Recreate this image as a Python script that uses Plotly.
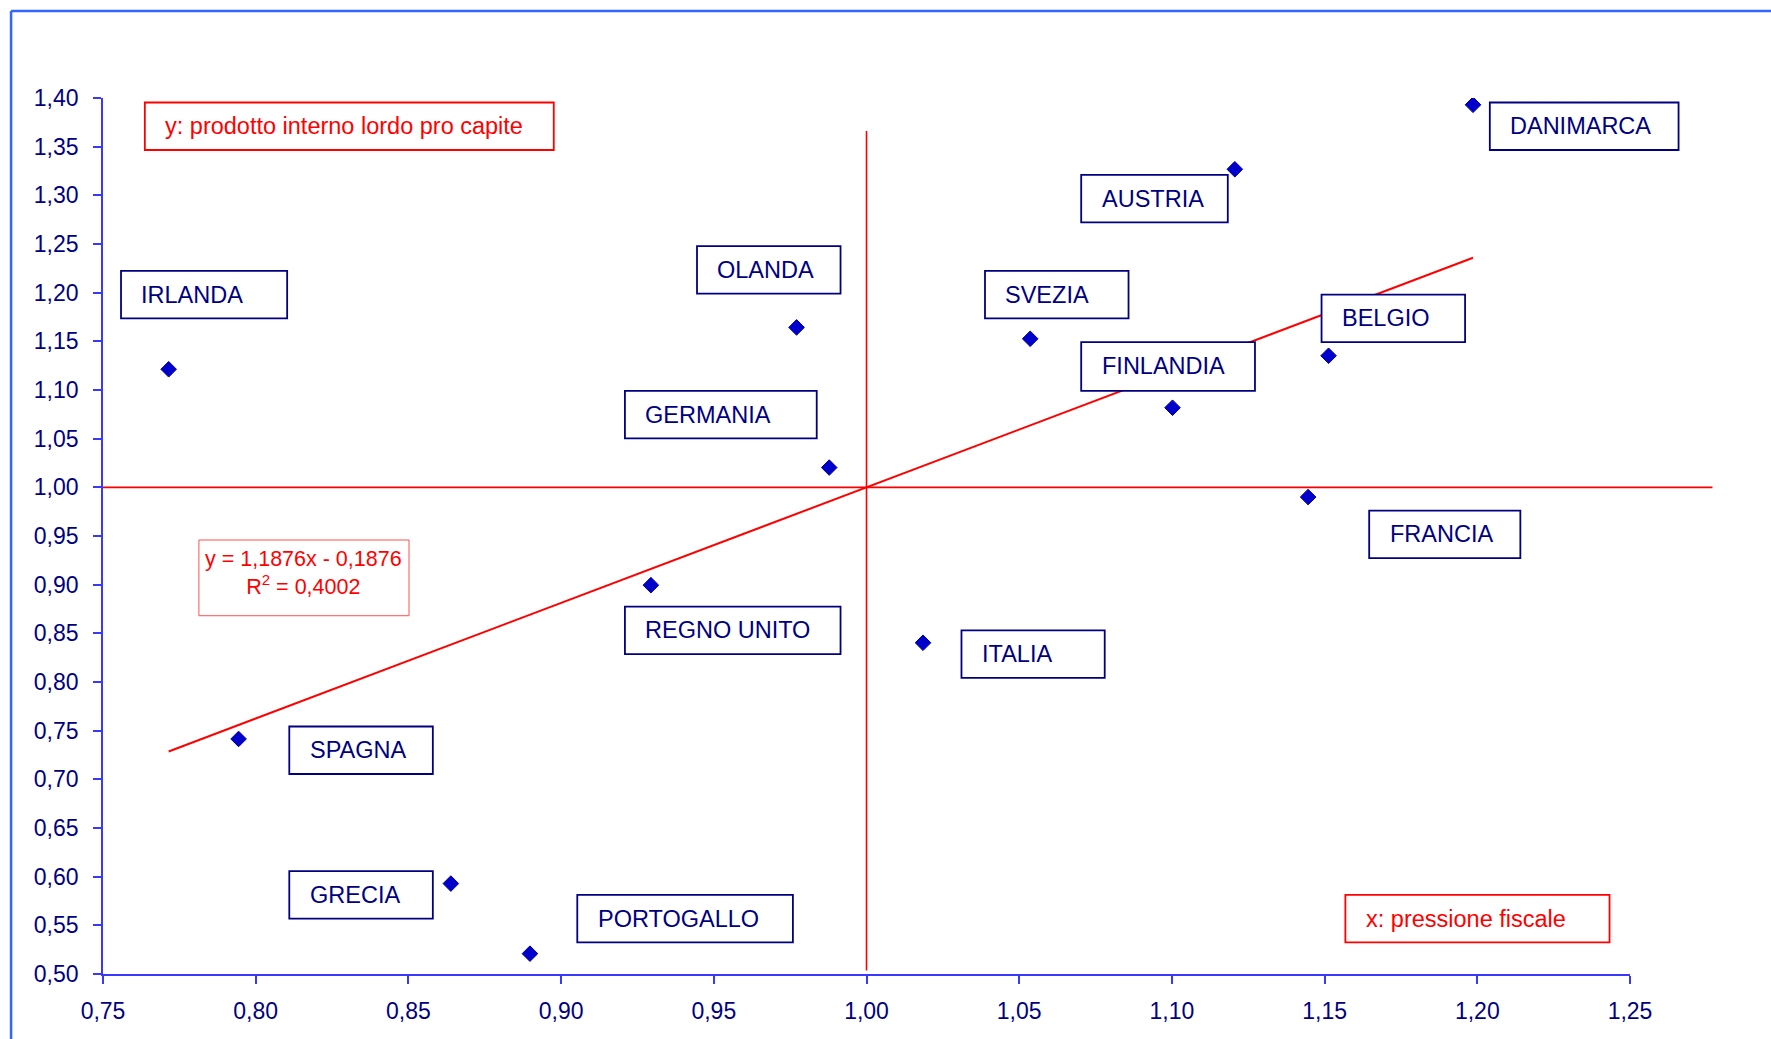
import plotly.graph_objects as go

# Paesi UE: pressione fiscale (x) e PIL pro capite (y), valori relativi alla media = 1
paesi = ["IRLANDA", "OLANDA", "GERMANIA", "REGNO UNITO", "SPAGNA", "GRECIA", "PORTOGALLO",
         "ITALIA", "SVEZIA", "FINLANDIA", "AUSTRIA", "DANIMARCA", "BELGIO", "FRANCIA"]
pressione_fiscale = [0.7715, 0.9771, 0.9878, 0.9294, 0.7944, 0.8639, 0.8898,
                     1.0185, 1.0536, 1.1002, 1.1206, 1.1986, 1.1513, 1.1446]
pil_pro_capite = [1.1213, 1.1643, 1.0203, 0.8995, 0.7415, 0.5929, 0.5209,
                  0.8403, 1.1526, 1.0818, 1.3268, 1.3930, 1.1352, 0.9900]

# retta di regressione lineare
pendenza = 1.1876
intercetta = -0.1876
r_quadro = 0.4002

x_ticks = [0.75, 0.80, 0.85, 0.90, 0.95, 1.00, 1.05, 1.10, 1.15, 1.20, 1.25]
y_ticks = [0.50, 0.55, 0.60, 0.65, 0.70, 0.75, 0.80, 0.85, 0.90, 0.95,
           1.00, 1.05, 1.10, 1.15, 1.20, 1.25, 1.30, 1.35, 1.40]

# ---- layout / stile ----
X_RANGE = (0.75, 1.25)
Y_RANGE = (0.50, 1.40)
FONT = "Liberation Sans, Arial, Helvetica, sans-serif"
NAVY = "#000080"
AXIS_BLUE = "#3838FF"
FRAME_BLUE = "#3366FF"
RED = "#FF0000"

# riquadri delle etichette (x0, x1, y_alto, y_basso) in unità degli assi
BOX = {
    "IRLANDA": (0.7559, 0.8103, 1.2223, 1.1735),
    "OLANDA": (0.9445, 0.9915, 1.2479, 1.1991),
    "GERMANIA": (0.9209, 0.9837, 1.0992, 1.0504),
    "REGNO UNITO": (0.9209, 0.9915, 0.8774, 0.8286),
    "SPAGNA": (0.8110, 0.8580, 0.7543, 0.7055),
    "GRECIA": (0.8110, 0.8580, 0.6057, 0.5569),
    "PORTOGALLO": (0.9053, 0.9759, 0.5813, 0.5325),
    "ITALIA": (1.0311, 1.0780, 0.8530, 0.8042),
    "SVEZIA": (1.0388, 1.0858, 1.2223, 1.1735),
    "AUSTRIA": (1.0703, 1.1183, 1.3210, 1.2723),
    "DANIMARCA": (1.2041, 1.2659, 1.3954, 1.3466),
    "BELGIO": (1.1490, 1.1960, 1.1979, 1.1492),
    "FINLANDIA": (1.0703, 1.1272, 1.1492, 1.0992),
    "FRANCIA": (1.1646, 1.2141, 0.9761, 0.9273),
}
BOX_Y_TITLE = (0.7637, 0.8976, 1.3954, 1.3466)
BOX_X_TITLE = (1.1568, 1.2433, 0.5813, 0.5325)
BOX_EQ = (0.7814, 0.8502, 0.9459, 0.8681)
TEXT_PAD = 0.0060


def px(x):
    return (x - X_RANGE[0]) / (X_RANGE[1] - X_RANGE[0])


def py(y):
    return (y - Y_RANGE[0]) / (Y_RANGE[1] - Y_RANGE[0])


def box_shape(b, color, width, layer="above"):
    return dict(type="rect", xref="paper", yref="paper",
                x0=px(b[0]), x1=px(b[1]), y0=py(b[3]), y1=py(b[2]),
                line=dict(color=color, width=width), fillcolor="white", layer=layer)


fig = go.Figure()

x_min, x_max = min(pressione_fiscale), max(pressione_fiscale)
fig.add_trace(go.Scatter(
    x=[x_min, x_max], y=[pendenza * x_min + intercetta, pendenza * x_max + intercetta],
    mode="lines", line=dict(color=RED, width=2), hoverinfo="skip", showlegend=False))

fig.add_trace(go.Scatter(
    x=pressione_fiscale, y=pil_pro_capite, mode="markers", text=paesi,
    marker=dict(symbol="diamond", size=12, color="#0000CC",
                line=dict(color="#0000A0", width=1)),
    showlegend=False))

shapes = []
# cornice esterna
shapes.append(dict(type="line", xref="paper", yref="paper", x0=-0.0602, x1=-0.0602,
                   y0=-0.3, y1=1.0993, line=dict(color=FRAME_BLUE, width=2.5)))
shapes.append(dict(type="line", xref="paper", yref="paper", x0=-0.0602, x1=1.3,
                   y0=1.0993, y1=1.0993, line=dict(color=FRAME_BLUE, width=2.5)))
# assi di riferimento (media = 1)
shapes.append(dict(type="line", xref="paper", yref="paper", x0=0, x1=px(1.277),
                   y0=py(1.0), y1=py(1.0), line=dict(color=RED, width=1.6), layer="below"))
shapes.append(dict(type="line", xref="paper", yref="paper", x0=px(1.0), x1=px(1.0),
                   y0=py(0.5035), y1=py(1.366), line=dict(color=RED, width=1.6), layer="below"))

annotations = []
for nome, b in BOX.items():
    shapes.append(box_shape(b, NAVY, 1.8))
    annotations.append(dict(x=b[0] + TEXT_PAD, y=(b[2] + b[3]) / 2, xref="x", yref="y",
                            text=nome, showarrow=False, xanchor="left", yanchor="middle",
                            font=dict(family=FONT, size=23.5, color=NAVY)))

for b, testo in [(BOX_Y_TITLE, "y: prodotto interno lordo pro capite"),
                 (BOX_X_TITLE, "x: pressione fiscale")]:
    shapes.append(box_shape(b, RED, 1.8))
    annotations.append(dict(x=b[0] + TEXT_PAD, y=(b[2] + b[3]) / 2, xref="x", yref="y",
                            text=testo, showarrow=False, xanchor="left", yanchor="middle",
                            font=dict(family=FONT, size=23.5, color=RED)))

shapes.append(box_shape(BOX_EQ, "#FF5050", 1))
eq = (f"y = {pendenza:.4f}x - {abs(intercetta):.4f}".replace(".", ",")
      + "<br>" + f"R<sup>2</sup> = {r_quadro:.4f}".replace(".", ","))
annotations.append(dict(x=(BOX_EQ[0] + BOX_EQ[1]) / 2, y=(BOX_EQ[2] + BOX_EQ[3]) / 2 + 0.005,
                        xref="x", yref="y", text=eq, showarrow=False,
                        xanchor="center", yanchor="middle", align="center",
                        font=dict(family=FONT, size=21.5, color=RED)))

fig.update_layout(
    width=1771, height=1039,
    margin=dict(l=103, r=141, t=98, b=65),
    paper_bgcolor="white", plot_bgcolor="white",
    separators=",.",
    shapes=shapes, annotations=annotations,
    xaxis=dict(range=list(X_RANGE), tickvals=x_ticks, tickformat=".2f",
               showgrid=False, zeroline=False, showline=True, linecolor=AXIS_BLUE,
               linewidth=1.6, ticks="outside", ticklen=8, tickwidth=1.5,
               tickcolor=AXIS_BLUE, ticklabelstandoff=8,
               tickfont=dict(family=FONT, size=23, color=NAVY)),
    yaxis=dict(range=list(Y_RANGE), tickvals=y_ticks, tickformat=".2f",
               showgrid=False, zeroline=False, showline=True, linecolor=AXIS_BLUE,
               linewidth=1.6, ticks="outside", ticklen=8, tickwidth=1.5,
               tickcolor=AXIS_BLUE, ticklabelstandoff=10,
               tickfont=dict(family=FONT, size=23, color=NAVY)),
)

fig.write_html("out.html")
